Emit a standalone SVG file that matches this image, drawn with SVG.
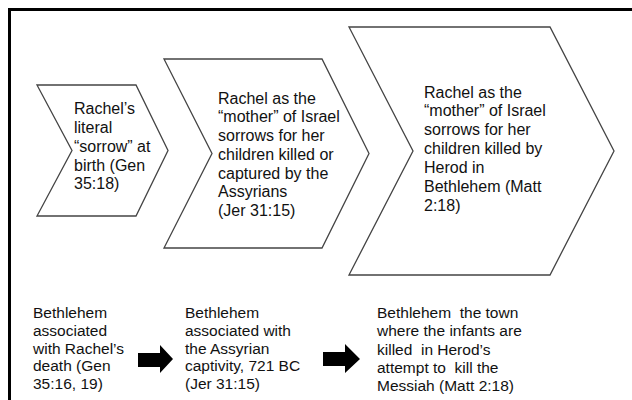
<svg xmlns="http://www.w3.org/2000/svg" width="632" height="400" viewBox="0 0 632 400">
<style>
.chev{fill:#fff;stroke:#444;stroke-width:1.3;stroke-linejoin:miter}
.t{font-family:"Liberation Sans",Arial,sans-serif;font-size:16px;fill:#111}
.b{font-family:"Liberation Sans",Arial,sans-serif;font-size:15.5px;fill:#111}
.arr{fill:#000}
</style>
<rect x="0" y="0" width="632" height="400" fill="#fff"/>
<path d="M9.5,400 V9.5 H632" fill="none" stroke="#000" stroke-width="3"/>
<g id="chevron1">
<polygon class="chev" points="37,85 136,85 168,150.5 136,216 37,216 72,150.5"/>
<text class="t"><tspan x="74" y="114">Rachel’s</tspan><tspan x="74" y="133">literal</tspan><tspan x="74" y="151.5">“sorrow” at</tspan><tspan x="74" y="170.5">birth (Gen</tspan><tspan x="74" y="189">35:18)</tspan></text>
</g>
<g id="chevron2">
<polygon class="chev" points="164,59 322,59 369,153.5 322,248 164,248 212,153.5"/>
<text class="t"><tspan x="218" y="103.5">Rachel as the</tspan><tspan x="218" y="122.3">“mother” of Israel</tspan><tspan x="218" y="141">sorrows for her</tspan><tspan x="218" y="159.8">children killed or</tspan><tspan x="218" y="178.5">captured by the</tspan><tspan x="218" y="197.3">Assyrians</tspan><tspan x="218" y="216">(Jer 31:15)</tspan></text>
</g>
<g id="chevron3">
<polygon class="chev" points="349,27 550,27 614,151 550,275 349,275 413,151"/>
<text class="t"><tspan x="424" y="97.5">Rachel as the</tspan><tspan x="424" y="116.4">“mother” of Israel</tspan><tspan x="424" y="135.2">sorrows for her</tspan><tspan x="424" y="154.1">children killed by</tspan><tspan x="424" y="173">Herod in</tspan><tspan x="424" y="191.8">Bethlehem (Matt</tspan><tspan x="424" y="210.7">2:18)</tspan></text>
</g>
<g id="place1">
<text class="b"><tspan x="33" y="318">Bethlehem</tspan><tspan x="33" y="335.8">associated</tspan><tspan x="33" y="353.6">with Rachel’s</tspan><tspan x="33" y="371.4">death (Gen</tspan><tspan x="33" y="389.2">35:16, 19)</tspan></text>
</g>
<g id="place2">
<text class="b"><tspan x="185" y="318">Bethlehem</tspan><tspan x="185" y="335.8">associated with</tspan><tspan x="185" y="353.6">the Assyrian</tspan><tspan x="185" y="371.4">captivity, 721 BC</tspan><tspan x="185" y="389.2">(Jer 31:15)</tspan></text>
</g>
<g id="place3">
<text class="b" xml:space="preserve"><tspan x="377" y="318">Bethlehem  the town</tspan><tspan x="377" y="336.3">where the infants are</tspan><tspan x="377" y="354.6">killed  in Herod’s</tspan><tspan x="377" y="372.9">attempt to  kill the</tspan><tspan x="377" y="391.2">Messiah (Matt 2:18)</tspan></text>
</g>
<g id="connectors">
<polygon class="arr" points="138,353 160,353 160,345 173,359 160,373 160,367 138,367"/>
<polygon class="arr" points="323,352 345,352 345,344 360,359 345,373 345,366 323,366"/>
</g>
</svg>
